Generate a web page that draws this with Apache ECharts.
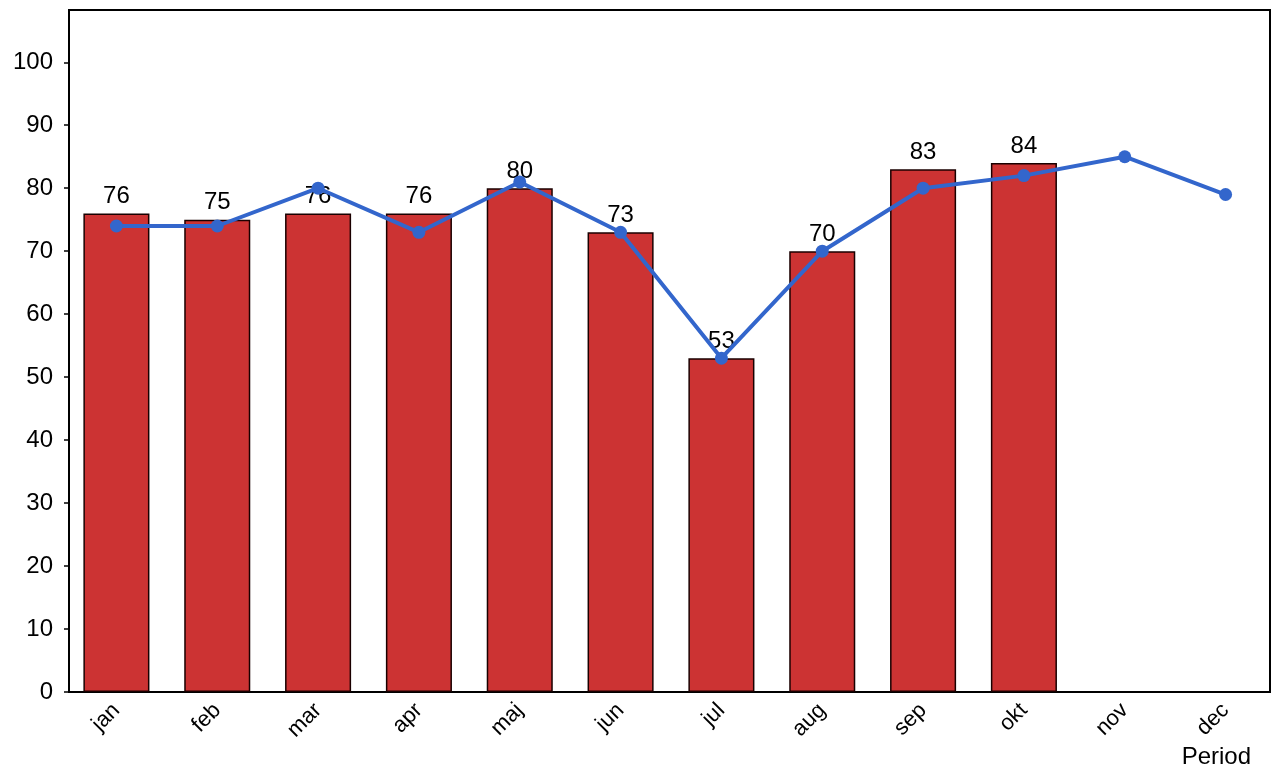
<!DOCTYPE html>
<html>
<head>
<meta charset="utf-8">
<script src="https://cdn.jsdelivr.net/npm/echarts@6/dist/echarts.min.js"></script>
<style>html,body{margin:0;padding:0;background:#fff}#c{width:1280px;height:771px}</style>
</head>
<body>
<div id="c"></div>
<script>
const categories = ['jan','feb','mar','apr','maj','jun','jul','aug','sep','okt','nov','dec'];
const barValues = [76, 75, 76, 76, 80, 73, 53, 70, 83, 84, null, null];
const lineValues = [74, 74, 80, 73, 81, 73, 53, 70, 80, 82, 85, 79];
const xAxisName = 'Period';

const FONT = 'Liberation Sans, Arial, sans-serif';
const chart = echarts.init(document.getElementById('c'));
chart.setOption({
  animation: false,
  textStyle: { fontFamily: FONT },
  title: {
    text: xAxisName, right: 24, bottom: -3,
    textStyle: { fontSize: 24, fontWeight: 'normal', color: '#000', fontFamily: FONT }
  },
  grid: [
    { left: 69, right: 10, top: 10, bottom: 79, show: true, borderColor: '#000', borderWidth: 2, z: 1 },
    { left: 66, right: 4, top: 10, bottom: 79 }
  ],
  xAxis: [
    { gridIndex: 0, type: 'category', data: categories, show: false },
    {
      gridIndex: 1, type: 'category', data: categories,
      axisLine: { show: false },
      axisTick: { show: false },
      axisLabel: { rotate: 45, fontSize: 22, color: '#000', margin: 15 }
    }
  ],
  yAxis: [
    {
      gridIndex: 0, type: 'value', min: 0, max: 108.3, interval: 10,
      splitLine: { show: false },
      axisLine: { show: true, lineStyle: { color: '#000', width: 2 } },
      axisTick: { show: true, length: 5, lineStyle: { color: '#000', width: 1.5 } },
      axisLabel: { fontSize: 24, color: '#000', margin: 16, showMaxLabel: false }
    },
    { gridIndex: 1, type: 'value', min: 0, max: 108.3, interval: 10, show: false, splitLine: { show: false } }
  ],
  series: [
    {
      type: 'bar', data: barValues, barWidth: '65.5%', z: 2,
      xAxisIndex: 1, yAxisIndex: 1,
      itemStyle: { color: '#cc3333', borderColor: '#1a0000', borderWidth: 1.5 },
      label: { show: true, position: 'top', distance: 5, fontSize: 24, color: '#000' }
    },
    {
      type: 'line', data: lineValues, z: 10,
      xAxisIndex: 1, yAxisIndex: 1,
      symbol: 'circle', symbolSize: 13,
      lineStyle: { color: '#3366cc', width: 4 },
      itemStyle: { color: '#3366cc' }
    }
  ]
});
</script>
</body>
</html>
